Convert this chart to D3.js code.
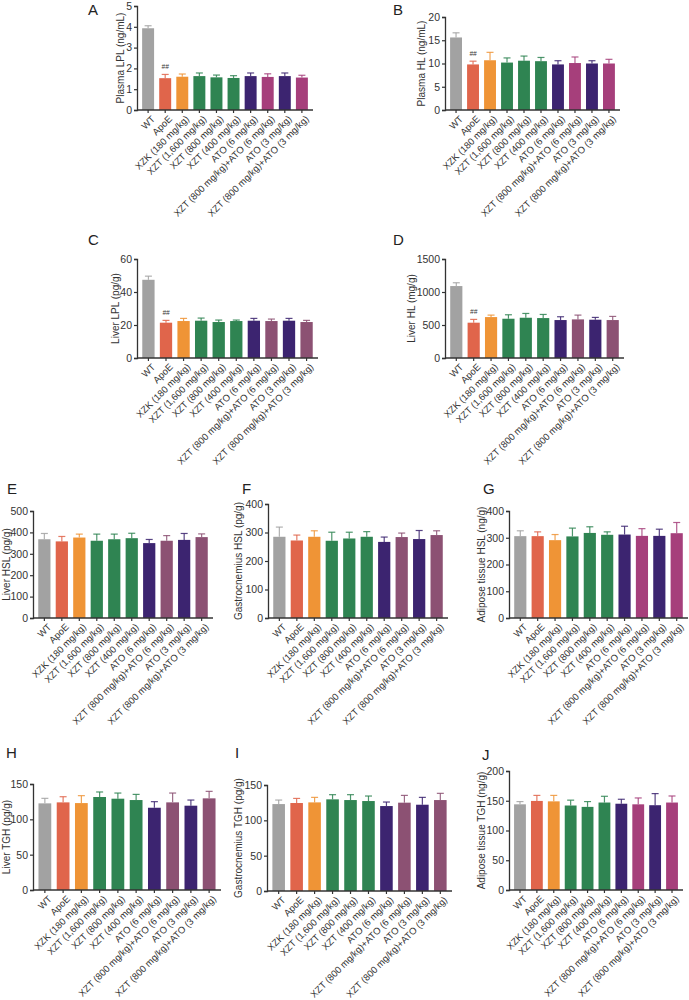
<!DOCTYPE html>
<html><head><meta charset="utf-8">
<script src="https://cdn.jsdelivr.net/npm/d3@7"></script>
<style>
body{margin:0;background:#fff;}
svg{display:block;font-family:"Liberation Sans",Arial,sans-serif;}
</style></head>
<body><svg id="c" width="689" height="1000"></svg>
<script>
const groups = ["WT","ApoE","XZK (180 mg/kg)","XZT (1,600 mg/kg)","XZT (800 mg/kg)","XZT (400 mg/kg)","ATO (6 mg/kg)","XZT (800 mg/kg)+ATO (6 mg/kg)","ATO (3 mg/kg)","XZT (800 mg/kg)+ATO (3 mg/kg)"];

const plasmaLPL    = [3.93,1.53,1.60,1.63,1.57,1.54,1.63,1.59,1.63,1.56];
const plasmaLPLErr = [0.12,0.18,0.13,0.15,0.11,0.11,0.15,0.15,0.15,0.11];
const plasmaHL     = [15.6,9.8,10.7,10.2,10.6,10.5,9.8,10.1,10.0,10.0];
const plasmaHLErr  = [1.0,0.7,1.7,1.0,1.0,0.8,0.8,1.3,0.6,0.9];
const liverLPL     = [47.4,21.4,22.4,22.6,21.8,22.4,22.6,22.4,22.6,21.8];
const liverLPLErr  = [2.2,1.4,1.6,1.6,1.2,0.6,1.4,1.2,1.4,1.0];
const liverHL      = [1090,535,620,595,610,605,575,585,580,575];
const liverHLErr   = [50,50,30,60,65,55,50,65,35,55];
const liverHSL     = [368,358,376,361,368,373,350,361,365,378];
const liverHSLErr  = [27,23,16,31,24,23,17,24,30,15];
const gastroHSL    = [285,272,285,271,279,285,267,284,277,291];
const gastroHSLErr = [34,19,21,30,22,18,17,14,30,15];
const adiposeHSL   = [306,306,291,305,318,311,312,307,307,317];
const adiposeHSLErr= [20,16,21,31,23,11,31,27,25,40];
const liverTGH     = [122.6,124,123,131.6,129.2,127.3,116.4,124,119.3,129.7];
const liverTGHErr  = [7.1,8,10.5,7.1,8,8,8.6,13.2,8,9.9];
const gastroTGH    = [123,124.5,125.4,129.7,128.7,127.3,120.2,125,122.1,128.7];
const gastroTGHErr = [5.7,6.5,7.1,6.6,7.6,7.1,5.7,10.3,10.4,9.5];
const adiposeTGH   = [144,149.7,149,142,139.7,147,145,144,142.5,147];
const adiposeTGHErr= [4.6,9.3,10,9,8.9,10.5,7.5,10.7,19.5,11];

const yTicksA = [0,1,2,3,4,5];
const yTicksB = [0,5,10,15,20];
const yTicksC = [0,20,40,60];
const yTicksD = [0,500,1000,1500];
const yTicksE = [0,100,200,300,400,500];
const yTicks400 = [0,100,200,300,400];
const yTicks150 = [0,50,100,150];
const yTicksJ = [0,50,100,150,200];

const gray="#a2a2a2", red="#e0654b", orange="#ef9436", green="#2f8452", purple="#3c2470", mauve="#8c5173", magenta="#a63f7b";
const colorsMagenta = [gray,red,orange,green,green,green,purple,magenta,purple,magenta];
const colorsMauve   = [gray,red,orange,green,green,green,purple,mauve,purple,mauve];

const panels = [
 {letter:"A", lx:88, ly:15, label:"Plasma LPL (ng/mL)", labX:120, vals:plasmaLPL, errs:plasmaLPLErr, max:5, ticks:yTicksA, x0:137, x1:313, yT:6, yB:110, colors:colorsMagenta, mark:"##"},
 {letter:"B", lx:393, ly:15, label:"Plasma HL (ng/mL)", labX:421, vals:plasmaHL, errs:plasmaHLErr, max:20, ticks:yTicksB, x0:445, x1:620, yT:17, yB:110, colors:colorsMagenta, mark:"##"},
 {letter:"C", lx:88, ly:245, label:"Liver LPL (pg/g)", labX:115, vals:liverLPL, errs:liverLPLErr, max:60, ticks:yTicksC, x0:137, x1:318, yT:259, yB:358, colors:colorsMauve, mark:"##"},
 {letter:"D", lx:393, ly:245, label:"Liver HL (mg/g)", labX:411, vals:liverHL, errs:liverHLErr, max:1500, ticks:yTicksD, x0:445, x1:624, yT:259, yB:358, colors:colorsMauve, mark:"##"},
 {letter:"E", lx:7, ly:494, label:"Liver HSL (pg/g)", labX:6, vals:liverHSL, errs:liverHSLErr, max:500, ticks:yTicksE, x0:33, x1:213, yT:511, yB:618, colors:colorsMauve},
 {letter:"F", lx:242, ly:494, label:"Gastrocnemius HSL (pg/g)", labX:238, vals:gastroHSL, errs:gastroHSLErr, max:400, ticks:yTicks400, x0:268, x1:448, yT:504, yB:618, colors:colorsMauve},
 {letter:"G", lx:483, ly:494, label:"Adipose tissue HSL (ng/g)", labX:481, vals:adiposeHSL, errs:adiposeHSLErr, max:400, ticks:yTicks400, x0:509, x1:688, yT:511, yB:618, colors:colorsMagenta},
 {letter:"H", lx:6, ly:758, label:"Liver TGH (pg/g)", labX:6, vals:liverTGH, errs:liverTGHErr, max:150, ticks:yTicks150, x0:33, x1:221, yT:784, yB:890, colors:colorsMauve},
 {letter:"I", lx:235, ly:758, label:"Gastrocnemius TGH (pg/g)", labX:238, vals:gastroTGH, errs:gastroTGHErr, max:150, ticks:yTicks150, x0:267, x1:452, yT:785, yB:891, colors:colorsMauve},
 {letter:"J", lx:482, ly:760, label:"Adipose tissue TGH (ng/g)", labX:481, vals:adiposeTGH, errs:adiposeTGHErr, max:200, ticks:yTicksJ, x0:509, x1:683, yT:771, yB:890, colors:colorsMagenta}
];

const svg = d3.select("#c");
const axisColor = "#333";

panels.forEach(p => {
  const g = svg.append("g");
  const x = d3.scaleBand().domain(groups).range([p.x0, p.x1]).paddingInner(0.3).paddingOuter(0.3);
  const y = d3.scaleLinear().domain([0, p.max]).range([p.yB, p.yT]);

  g.append("text").attr("x", p.lx).attr("y", p.ly).attr("font-size", 15).attr("fill", "#222").text(p.letter);

  const eg = g.append("g");
  groups.forEach((c, i) => {
    const cx = x(c) + x.bandwidth()/2;
    const top = y(p.vals[i] + p.errs[i]);
    eg.append("line").attr("x1", cx).attr("x2", cx).attr("y1", y(p.vals[i])).attr("y2", top)
      .attr("stroke", p.colors[i]).attr("stroke-width", 1.2).attr("stroke-opacity", 0.85);
    eg.append("line").attr("x1", cx - 3.5).attr("x2", cx + 3.5).attr("y1", top).attr("y2", top)
      .attr("stroke", p.colors[i]).attr("stroke-width", 1.2).attr("stroke-opacity", 0.85);
  });

  g.selectAll("rect.bar").data(groups).enter().append("rect")
    .attr("x", d => x(d)).attr("width", x.bandwidth())
    .attr("y", (d, i) => y(p.vals[i])).attr("height", (d, i) => y(0) - y(p.vals[i]))
    .attr("fill", (d, i) => p.colors[i]);

  if (p.mark) {
    const i = 1;
    g.append("text").attr("x", x(groups[i]) + x.bandwidth()/2).attr("y", y(p.vals[i] + p.errs[i]) - 5)
      .attr("text-anchor", "middle").attr("font-size", 6.5).attr("font-style", "italic").attr("fill", "#333").text(p.mark);
  }

  const ya = g.append("g").attr("transform", `translate(${p.x0},0)`)
    .call(d3.axisLeft(y).tickValues(p.ticks).tickSize(3).tickPadding(2).tickFormat(d3.format("d")));
  ya.select(".domain").attr("stroke", axisColor).attr("stroke-width", 1.3);
  ya.selectAll(".tick line").attr("stroke", axisColor).attr("stroke-width", 1.2);
  ya.selectAll("text").attr("font-size", 10.5).attr("fill", "#333").attr("font-family", "Liberation Sans, Arial, sans-serif");

  const xa = g.append("g").attr("transform", `translate(0,${p.yB})`)
    .call(d3.axisBottom(x).tickSize(3).tickSizeOuter(0).tickPadding(2));
  xa.select(".domain").attr("stroke", axisColor).attr("stroke-width", 1.3).attr("d", `M${p.x0},0H${p.x1}`);
  xa.selectAll(".tick line").attr("stroke", axisColor).attr("stroke-width", 1.2);
  xa.selectAll("text").attr("font-size", 9.5).attr("fill", "#333").attr("font-family", "Liberation Sans, Arial, sans-serif")
    .attr("text-anchor", "end").attr("dx", 0).attr("dy", 0)
    .attr("transform", "translate(4,6) rotate(-45)");

  g.append("text").attr("transform", `translate(${p.labX},${(p.yT + p.yB)/2}) rotate(-90)`)
    .attr("text-anchor", "middle").attr("dy", "0.35em").attr("font-size", 10).attr("fill", "#333").text(p.label);
});
</script>
</body></html>
